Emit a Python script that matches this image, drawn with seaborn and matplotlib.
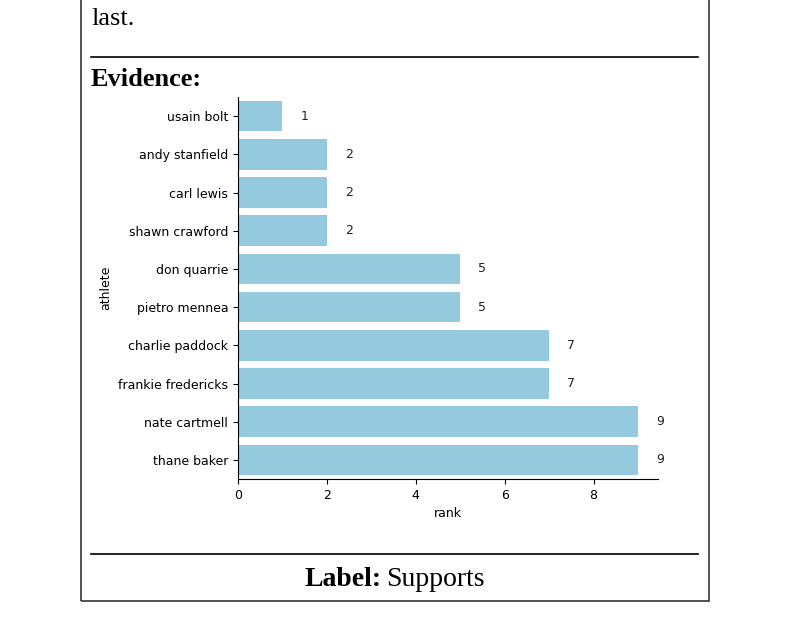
import matplotlib
matplotlib.use("Agg")
import matplotlib.pyplot as plt
import seaborn as sns
import pandas as pd
from matplotlib.patches import Rectangle
from matplotlib.lines import Line2D

athletes = ["usain bolt", "andy stanfield", "carl lewis", "shawn crawford",
            "don quarrie", "pietro mennea", "charlie paddock",
            "frankie fredericks", "nate cartmell", "thane baker"]
ranks = [1, 2, 2, 2, 5, 5, 7, 7, 9, 9]

df = pd.DataFrame({"athlete": athletes, "rank": ranks})

W, H = 808, 629
fig = plt.figure(figsize=(W / 100, H / 100), dpi=100)

def fx(x):
    return x / W

def fy(y):
    return 1 - y / H

# card border
fig.add_artist(Rectangle((fx(81), fy(601)), fx(709) - fx(81), fy(-5) - fy(601),
                         transform=fig.transFigure, fill=False,
                         edgecolor="#333333", linewidth=1.2))
# separator lines
fig.add_artist(Line2D([fx(91), fx(698)], [fy(57), fy(57)],
                      transform=fig.transFigure, color="black", linewidth=1.2))
fig.add_artist(Line2D([fx(91), fx(698)], [fy(554), fy(554)],
                      transform=fig.transFigure, color="black", linewidth=1.2))

serif = "Liberation Serif"
fig.text(fx(91), fy(19), "last.", family=serif, fontsize=19,
         ha="left", va="center")
fig.text(fx(91), fy(79), "Evidence:", family=serif, fontsize=19,
         fontweight="bold", ha="left", va="center")
fig.text(fx(382), fy(579), "Label:", family=serif, fontsize=20,
         fontweight="bold", ha="right", va="center")
fig.text(fx(386), fy(579), "Supports", family=serif, fontsize=20,
         ha="left", va="center")

ax = fig.add_axes([fx(238), fy(479), fx(658) - fx(238), fy(97) - fy(479)])
sns.barplot(data=df, x="rank", y="athlete", color="skyblue", ax=ax)
for i, v in enumerate(ranks):
    ax.text(v + 0.5, i, str(v), ha="center", va="center", fontsize=9,
            color="#222222")
ax.set_xlim(0, 9.45)
ax.set_xticks([0, 2, 4, 6, 8])
ax.tick_params(labelsize=9)
ax.set_xlabel("rank", fontsize=9)
ax.set_ylabel("athlete", fontsize=9)
sns.despine(ax=ax)

fig.savefig("out.png", dpi=100)
